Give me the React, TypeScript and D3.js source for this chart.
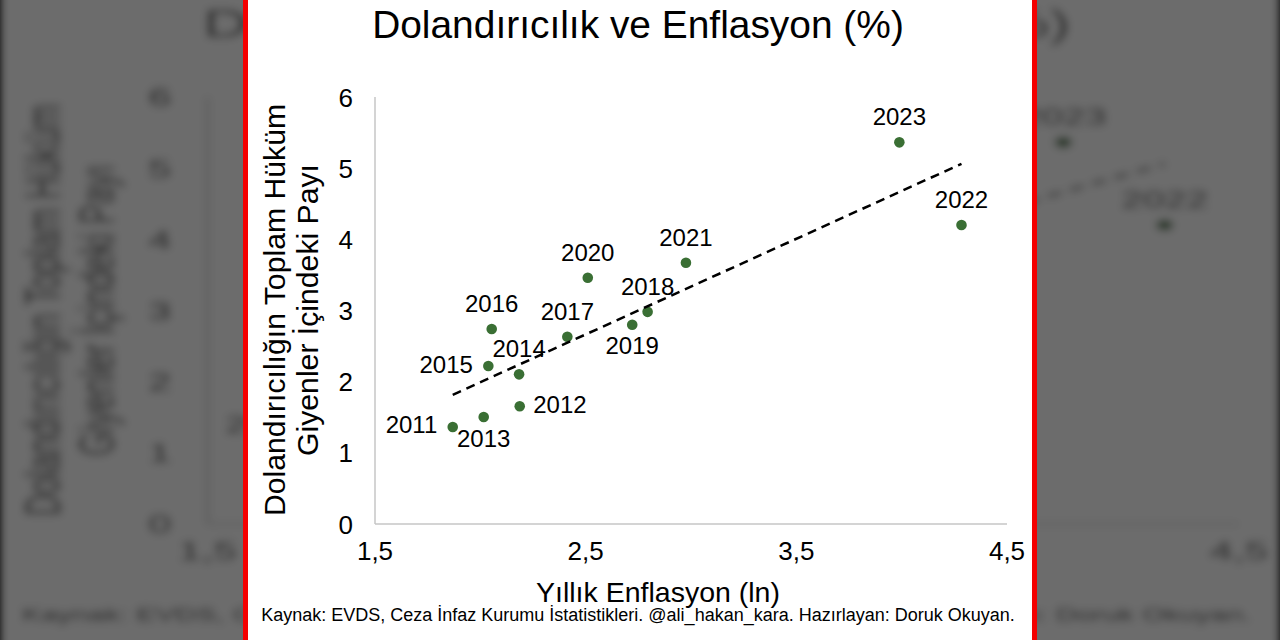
import React from "react";
import * as d3 from "d3";

// ---- data ----
const years = [2011, 2012, 2013, 2014, 2015, 2016, 2017, 2018, 2019, 2020, 2021, 2022, 2023];
const inflationLn = [1.869, 2.187, 2.016, 2.184, 2.038, 2.054, 2.413, 2.794, 2.721, 2.51, 2.976, 4.284, 3.989];
const fraudShare = [1.363, 1.654, 1.503, 2.103, 2.22, 2.74, 2.632, 2.981, 2.8, 3.461, 3.672, 4.201, 5.363];
const labelSide = ["left", "right", "below", "above", "left", "above", "above", "above", "below", "above", "above", "above", "above"];
const xTicks = [1.5, 2.5, 3.5, 4.5];
const yTicks = [0, 1, 2, 3, 4, 5, 6];

const titleText = "Dolandırıcılık ve Enflasyon (%)";
const yTitleLines = ["Dolandırıcılığın Toplam Hüküm", "Giyenler İçindeki Payı"];
const xTitleText = "Yıllık Enflasyon (ln)";
const captionText = "Kaynak: EVDS, Ceza İnfaz Kurumu İstatistikleri. @ali_hakan_kara. Hazırlayan: Doruk Okuyan.";

const FONT = "'Liberation Sans', Arial, Helvetica, sans-serif";

const x = d3.scaleLinear().domain([1.5, 4.5]).range([375, 1007]);
const y = d3.scaleLinear().domain([0, 6]).range([524, 97]);

const fmtX = (v: number) => d3.format(".1f")(v).replace(".", ",");

// least-squares trend line
const mx = d3.mean(inflationLn) as number;
const my = d3.mean(fraudShare) as number;
let sxy = 0, sxx = 0;
inflationLn.forEach((xv, i) => {
  sxy += (xv - mx) * (fraudShare[i] - my);
  sxx += (xv - mx) * (xv - mx);
});
const slope = sxy / sxx;
const intercept = my - slope * mx;
const [xMin, xMax] = d3.extent(inflationLn) as [number, number];
const trendPts: [number, number][] = [xMin, xMax].map((v) => [x(v), y(intercept + slope * v)]);
const trendPath = d3.line()(trendPts) as string;

function Chart() {
  return (
    <g fontFamily={FONT}>
      <text x={638} y={37.5} fontSize={38.9} textAnchor="middle" fill="#000">{titleText}</text>

      {/* axes */}
      <line x1={x(1.5)} x2={x(1.5)} y1={y(6)} y2={y(0)} stroke="#c6c6c6" strokeWidth={1.5} />
      <line x1={x(1.5)} x2={x(4.5)} y1={y(0)} y2={y(0)} stroke="#c6c6c6" strokeWidth={1.5} />

      {yTicks.map((t) => (
        <text key={"y" + t} x={353} y={y(t) + 9.5} fontSize={26} textAnchor="end" fill="#000">{String(t)}</text>
      ))}
      {xTicks.map((t) => (
        <text key={"x" + t} x={x(t)} y={560} fontSize={26} textAnchor="middle" fill="#000">{fmtX(t)}</text>
      ))}

      {/* axis titles */}
      <g transform="translate(285,310) rotate(-90)">
        <text x={0} y={0} fontSize={30.2} textAnchor="middle" fill="#000">{yTitleLines[0]}</text>
        <text x={0} y={33} fontSize={30.2} textAnchor="middle" fill="#000">{yTitleLines[1]}</text>
      </g>
      <text x={658} y={601.5} fontSize={28.5} textAnchor="middle" fill="#000">{xTitleText}</text>
      <text x={638} y={621} fontSize={18} textAnchor="middle" fill="#000">{captionText}</text>

      {/* points */}
      {years.map((yr, i) => (
        <circle key={"c" + yr} cx={x(inflationLn[i])} cy={y(fraudShare[i])} r={5.3} fill="#3a6f34" />
      ))}
      {/* trend line */}
      <path d={trendPath} stroke="#000" strokeWidth={2.5} strokeDasharray="9,6" fill="none" />
      {/* labels */}
      {years.map((yr, i) => {
        const cx = x(inflationLn[i]);
        const cy = y(fraudShare[i]);
        const side = labelSide[i];
        let tx = cx, ty = cy, anchor = "middle";
        if (side === "above") { ty = cy - 17; }
        else if (side === "below") { ty = cy + 29.5; }
        else if (side === "left") { tx = cx - 15.5; ty = cy + 6.5; anchor = "end"; }
        else { tx = cx + 13.5; ty = cy + 7; anchor = "start"; }
        return (
          <text key={"l" + yr} x={tx} y={ty} fontSize={24} textAnchor={anchor} fill="#000">{String(yr)}</text>
        );
      })}
    </g>
  );
}

export default function App() {
  return (
    <svg width={1280} height={640} viewBox="0 0 1280 640"
      style={{ position: "fixed", left: 0, top: 0, display: "block" }}>
      <defs>
        <filter id="bgblur" x="-5%" y="-5%" width="110%" height="110%">
          <feGaussianBlur stdDeviation="4.5" />
        </filter>
      </defs>
      {/* blurred, stretched backdrop */}
      <rect x={0} y={0} width={1280} height={640} fill="#000" />
      <g filter="url(#bgblur)">
        <g transform="translate(640,0) scale(1.632,1) translate(-640,0)">
          <rect x={248} y={-20} width={784} height={680} fill="#fff" />
          <Chart />
        </g>
      </g>
      <rect x={0} y={0} width={1280} height={640} fill="#000" opacity={0.575} />

      {/* foreground panel */}
      <rect x={248} y={0} width={784} height={640} fill="#fff" />
      <rect x={243} y={0} width={5} height={640} fill="#f40000" />
      <rect x={1032} y={0} width={5} height={640} fill="#f40000" />
      <Chart />
    </svg>
  );
}
